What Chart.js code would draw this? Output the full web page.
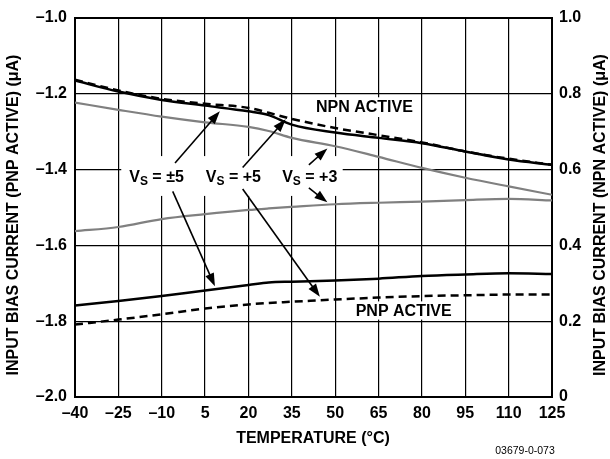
<!DOCTYPE html>
<html>
<head>
<meta charset="utf-8">
<script src="https://cdn.jsdelivr.net/npm/chart.js@4.4.1/dist/chart.umd.min.js"></script>
<style>
  html, body { margin: 0; padding: 0; background: #fff; }
  #wrap { width: 610px; height: 459px; }
</style>
</head>
<body>
<div id="wrap"><canvas id="biasChart" width="610" height="459"></canvas></div>
<script>
/* global Chart */
const temps = [-40, -25, -10, 5, 20, 27, 35, 50, 65, 80, 95, 110, 125];
const xTicks = [-40, -25, -10, 5, 20, 35, 50, 65, 80, 95, 110, 125];
const pnpTicks = [-2.0, -1.8, -1.6, -1.4, -1.2, -1.0];
const npnTicks = [0, 0.2, 0.4, 0.6, 0.8, 1.0];

// PNP active, left axis (uA)
const pnpVsDual5 = [-1.759, -1.747, -1.734, -1.719, -1.705, -1.698, -1.696, -1.693, -1.688, -1.681, -1.677, -1.674, -1.676];
const pnpVs5 = [-1.809, -1.796, -1.782, -1.767, -1.756, -1.752, -1.749, -1.743, -1.738, -1.734, -1.732, -1.730, -1.730];
const pnpVs3 = [-1.563, -1.552, -1.531, -1.518, -1.507, -1.503, -1.499, -1.492, -1.488, -1.485, -1.481, -1.478, -1.482];

// NPN active, right axis (uA)
const npnVsDual5 = [0.834, 0.805, 0.783, 0.768, 0.753, 0.743, 0.718, 0.697, 0.683, 0.669, 0.647, 0.626, 0.612];
const npnVs5 = [0.836, 0.808, 0.786, 0.773, 0.762, 0.749, 0.733, 0.709, 0.690, 0.671, 0.647, 0.628, 0.612];
const npnVs3 = [0.776, 0.757, 0.739, 0.724, 0.712, 0.701, 0.683, 0.661, 0.633, 0.604, 0.578, 0.555, 0.533];

const FONT = '"Liberation Sans", Arial, sans-serif';
const BLACK = '#000';
const GRAY = '#808080';

// annotation placement, in data units of the left axis
const vsLabels = [
  { x: -11.8, y: -1.422, rest: ' = \u00b15' },
  { x: 14.8, y: -1.422, rest: ' = +5' },
  { x: 41.2, y: -1.422, rest: ' = +3' },
];
const textLabels = [
  { x: 60.1, y: -1.236, text: 'NPN ACTIVE' },
  { x: 73.7, y: -1.774, text: 'PNP ACTIVE' },
];
const whiteBoxes = [
  [-24, -1.365, 52.6, -1.470],
  [41.5, -1.210, 78.5, -1.262],
  [55, -1.748, 92.3, -1.796],
];
const arrows = [
  [-5.4, -1.383, 10.1, -1.247],
  [18, -1.395, 32.9, -1.268],
  [40.9, -1.388, 47.3, -1.345],
  [40.9, -1.449, 47.3, -1.487],
  [-6.2, -1.458, 8.4, -1.708],
  [18, -1.452, 44.7, -1.736],
];

const pts = (ys) => temps.map((t, i) => ({ x: t, y: ys[i] }));

function drawArrow(ctx, x0, y0, x1, y1) {
  const a = Math.atan2(y1 - y0, x1 - x0);
  const hl = 13, hw = 4.6;
  const c = Math.cos(a), s = Math.sin(a);
  ctx.beginPath();
  ctx.moveTo(x0, y0);
  ctx.lineTo(x1 - hl * 0.7 * c, y1 - hl * 0.7 * s);
  ctx.stroke();
  ctx.beginPath();
  ctx.moveTo(x1, y1);
  ctx.lineTo(x1 - hl * c + hw * s, y1 - hl * s - hw * c);
  ctx.lineTo(x1 - hl * c - hw * s, y1 - hl * s + hw * c);
  ctx.closePath();
  ctx.fill();
}

const annotations = {
  id: 'annotations',
  beforeDatasetsDraw(chart) {
    const { ctx, scales: { x, y } } = chart;
    ctx.save();
    ctx.fillStyle = '#fff';
    whiteBoxes.forEach(([x0, y0, x1, y1]) => {
      const l = x.getPixelForValue(x0), r = x.getPixelForValue(x1);
      const t = y.getPixelForValue(y0), b = y.getPixelForValue(y1);
      ctx.fillRect(l, t, r - l, b - t);
    });
    ctx.restore();
  },
  afterDatasetsDraw(chart) {
    const { ctx, scales: { x, y } } = chart;
    ctx.save();
    ctx.strokeStyle = BLACK;
    ctx.fillStyle = BLACK;
    ctx.lineWidth = 1.6;
    arrows.forEach(([x0, y0, x1, y1]) => {
      drawArrow(ctx, x.getPixelForValue(x0), y.getPixelForValue(y0), x.getPixelForValue(x1), y.getPixelForValue(y1));
    });

    ctx.textBaseline = 'middle';
    ctx.textAlign = 'left';
    vsLabels.forEach((l) => {
      const big = 'bold 16px ' + FONT, small = 'bold 12px ' + FONT;
      ctx.font = big; const wV = ctx.measureText('V').width; const wR = ctx.measureText(l.rest).width;
      ctx.font = small; const wS = ctx.measureText('S').width;
      let px = x.getPixelForValue(l.x) - (wV + wS + wR) / 2;
      const py = y.getPixelForValue(l.y);
      ctx.font = big; ctx.fillText('V', px, py); px += wV;
      ctx.font = small; ctx.fillText('S', px, py + 4); px += wS;
      ctx.font = big; ctx.fillText(l.rest, px, py);
    });

    ctx.textAlign = 'center';
    ctx.font = 'bold 16px ' + FONT;
    textLabels.forEach((l) => ctx.fillText(l.text, x.getPixelForValue(l.x), y.getPixelForValue(l.y)));
    ctx.restore();
  },
  afterDraw(chart) {
    const { ctx } = chart;
    ctx.save();
    ctx.fillStyle = BLACK;
    ctx.textAlign = 'center';
    ctx.textBaseline = 'middle';
    ctx.font = 'bold 16px ' + FONT;
    [[14, 'INPUT BIAS CURRENT (PNP ACTIVE) (\u03bcA)'], [601, 'INPUT BIAS CURRENT (NPN ACTIVE) (\u03bcA)']].forEach(([cx, t]) => {
      ctx.save();
      ctx.translate(cx, 215);
      ctx.rotate(-Math.PI / 2);
      ctx.fillText(t, 0, 0);
      ctx.restore();
    });
    ctx.font = 'bold 16px ' + FONT;
    ctx.fillText('TEMPERATURE (\u00b0C)', 313, 439);
    ctx.font = '10.5px ' + FONT;
    ctx.fillText('03679-0-073', 525, 451);
    ctx.restore();
  },
};

const line = (data, axis, color, dash) => ({
  data: pts(data),
  yAxisID: axis,
  borderColor: color,
  borderWidth: color === GRAY ? 2.2 : 2.5,
  borderDash: dash ? [8, 5] : [],
  pointRadius: 0,
  cubicInterpolationMode: 'monotone',
  fill: false,
});

const tickFont = { family: FONT, size: 16, weight: 'bold' };

new Chart(document.getElementById('biasChart'), {
  type: 'line',
  data: {
    datasets: [
      line(pnpVs3, 'y', GRAY),
      line(npnVs3, 'y2', GRAY),
      line(pnpVs5, 'y', BLACK, true),
      line(npnVs5, 'y2', BLACK, true),
      line(pnpVsDual5, 'y', BLACK),
      line(npnVsDual5, 'y2', BLACK),
    ],
  },
  options: {
    responsive: false,
    animation: false,
    devicePixelRatio: 1,
    layout: { padding: { top: 17, left: 0, right: 0, bottom: 0 } },
    plugins: { legend: { display: false }, tooltip: { enabled: false } },
    scales: {
      x: {
        type: 'linear',
        min: -40,
        max: 125,
        afterBuildTicks: (s) => { s.ticks = xTicks.map((v) => ({ value: v })); },
        afterFit: (s) => { s.height = 62; },
        grid: { color: BLACK, lineWidth: (c) => (c.tick && c.tick.value === 125 ? 2 : 1.2), drawTicks: false },
        border: { display: true, color: BLACK, width: 2 },
        ticks: {
          color: BLACK, font: tickFont, padding: 7, maxRotation: 0, autoSkip: false,
          callback: (v) => (v < 0 ? '\u2013' + Math.abs(v) : String(v)),
        },
      },
      y: {
        position: 'left',
        min: -2.0,
        max: -1.0,
        afterBuildTicks: (s) => { s.ticks = pnpTicks.map((v) => ({ value: v })); },
        afterFit: (s) => { s.width = 75; },
        grid: { color: BLACK, lineWidth: (c) => (c.tick && c.tick.value === -1.0 ? 2 : 1.2), drawTicks: false },
        border: { display: true, color: BLACK, width: 2 },
        ticks: {
          color: BLACK, font: tickFont, padding: 8, autoSkip: false,
          callback: (v) => '\u2013' + Math.abs(v).toFixed(1),
        },
      },
      y2: {
        position: 'right',
        min: 0,
        max: 1.0,
        afterBuildTicks: (s) => { s.ticks = npnTicks.map((v) => ({ value: v })); },
        afterFit: (s) => { s.width = 58; },
        grid: { display: false, drawTicks: false },
        border: { display: true, color: BLACK, width: 2 },
        ticks: {
          color: BLACK, font: tickFont, padding: 7, autoSkip: false,
          callback: (v) => (v === 0 ? '0' : v.toFixed(1)),
        },
      },
    },
  },
  plugins: [annotations],
});
</script>
</body>
</html>
